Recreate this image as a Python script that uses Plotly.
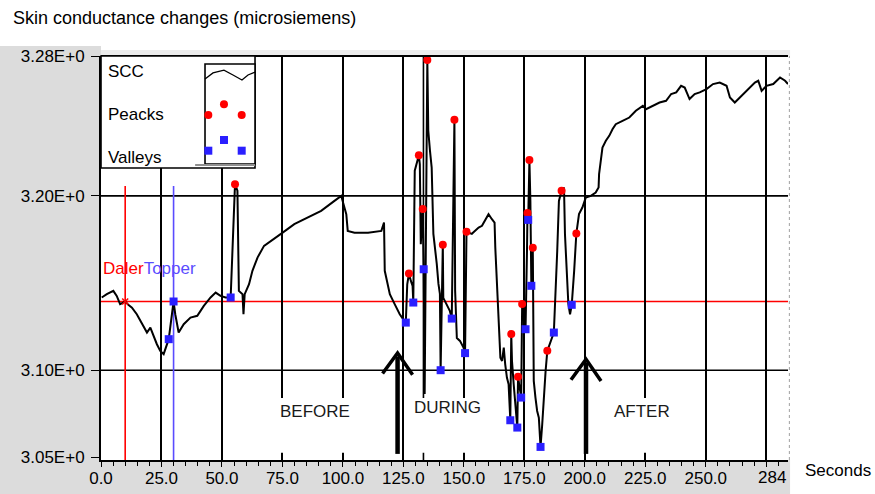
import plotly.graph_objects as go

# ---------------- data ----------------
time_s = [0.3, 2.4, 5.1, 6.5, 7.9, 10.0, 11.3, 12.8, 14.8, 16.9, 19.0, 20.4, 21.7, 23.1, 24.5, 25.9,
          28.0, 30.0, 30.7, 32.1, 34.2, 37.0, 39.8, 42.5, 45.3, 47.4, 49.4, 51.5, 53.6, 54.3, 55.4,
          56.4, 57.0, 58.5, 58.9, 59.4, 61.2, 62.6, 64.7, 67.4, 71.6, 75.1, 79.9, 85.5, 91.0, 96.5,
          99.3, 101.4, 102.0, 104.8, 110.4, 115.9, 117.0, 117.3, 119.4, 121.4, 123.5, 124.9, 126.0,
          126.6, 127.3, 128.1, 128.8, 129.1, 129.7, 131.4, 131.8, 132.2, 133.0, 133.4, 133.8, 134.9,
          135.3, 136.0, 136.7, 137.4, 138.1, 138.8, 139.5, 140.1, 140.4, 141.3, 141.5, 142.9, 144.2,
          145.0, 145.7, 146.1, 146.4, 147.1, 148.4, 149.9, 150.5, 150.9, 151.1, 153.3, 156.1, 157.5,
          160.2, 161.6, 162.7, 163.0, 163.7, 164.4, 165.1, 165.8, 166.5, 167.1, 167.8, 168.5, 169.2,
          169.6, 169.9, 170.6, 171.3, 172.1, 172.4, 172.8, 173.7, 174.1, 174.8, 175.5, 176.1, 176.3,
          176.6, 177.1, 177.5, 177.9, 178.5, 178.7, 178.9, 179.6, 180.3, 181.0, 181.4, 181.7, 182.4,
          183.1, 183.8, 184.5, 185.8, 187.2, 188.6, 189.3, 190.4, 191.4, 191.8, 192.4, 193.2, 193.9,
          194.6, 195.6, 196.5, 197.6, 199.0, 200.4, 202.5, 204.5, 205.7, 205.9, 206.6, 207.3, 208.7,
          210.1, 211.5, 212.8, 215.6, 218.4, 221.1, 224.0, 225.3, 228.1, 230.9, 233.6, 235.7, 237.8,
          239.8, 241.3, 243.3, 245.4, 247.5, 250.3, 253.0, 255.8, 258.6, 260.0, 262.0, 264.1, 266.9,
          270.3, 271.7, 273.1, 275.1, 277.9, 280.7, 282.8, 284.0]
scc_us = [3.1417, 3.1436, 3.1455, 3.1426, 3.1379, 3.1394, 3.1375, 3.1359, 3.1321, 3.1264, 3.1216,
          3.1244, 3.1197, 3.1149, 3.1111, 3.1092, 3.1178, 3.1394, 3.1321, 3.1216, 3.1264, 3.1302,
          3.1312, 3.1369, 3.1417, 3.1445, 3.1426, 3.1417, 3.1417, 3.1703, 3.2067, 3.2029, 3.1455,
          3.1436, 3.1321, 3.1436, 3.1493, 3.1570, 3.1646, 3.1713, 3.1752, 3.1789, 3.1838, 3.1876,
          3.1914, 3.1971, 3.2000, 3.1895, 3.1799, 3.1789, 3.1789, 3.1799, 3.1847, 3.1570, 3.1436,
          3.1379, 3.1321, 3.1293, 3.1273, 3.1493, 3.1554, 3.1512, 3.1484, 3.1388, 3.2144, 3.2233,
          3.2181, 3.1723, 3.1924, 3.1579, 3.0864, 3.2779, 3.2373, 3.2258, 3.2162, 3.1782, 3.1703,
          3.1610, 3.1495, 3.1438, 3.1000, 3.1719, 3.1415, 3.1380, 3.1340, 3.1296, 3.1971, 3.2436,
          3.1455, 3.1185, 3.1168, 3.1128, 3.1098, 3.1455, 3.1794, 3.1782, 3.1818, 3.1828, 3.1895,
          3.1866, 3.1847, 3.1703, 3.1493, 3.1244, 3.1072, 3.1053, 3.1130, 3.1034, 3.0958, 3.0920,
          3.0713, 3.1207, 3.1053, 3.0920, 3.0805, 3.0671, 3.0962, 3.0920, 3.0843, 3.1379, 3.1302,
          3.1235, 3.1684, 3.1901, 3.1862, 3.2205, 3.1971, 3.1484, 3.1703, 3.1398, 3.0939, 3.0843,
          3.0766, 3.0728, 3.0635, 3.0560, 3.0690, 3.0881, 3.0996, 3.1111, 3.1168, 3.1216, 3.1684,
          3.1971, 3.2029, 3.2048, 3.1780, 3.1627, 3.1380, 3.1321, 3.1375, 3.1570, 3.1784, 3.1895,
          3.1933, 3.1990, 3.2000, 3.2019, 3.2048, 3.2125, 3.2220, 3.2277, 3.2316, 3.2344, 3.2383,
          3.2411, 3.2430, 3.2449, 3.2488, 3.2516, 3.2497, 3.2516, 3.2535, 3.2545, 3.2584, 3.2593,
          3.2631, 3.2621, 3.2555, 3.2584, 3.2593, 3.2612, 3.2641, 3.2650, 3.2631, 3.2564, 3.2535,
          3.2564, 3.2602, 3.2650, 3.2660, 3.2602, 3.2631, 3.2641, 3.2679, 3.2660, 3.2641]

peak_t = [55.4, 127.3, 131.4, 133.0, 134.9, 141.3, 146.1, 151.1, 169.6, 172.4, 174.1, 176.3,
          177.1, 178.5, 184.5, 190.4, 196.5]
peak_v = [3.2067, 3.1554, 3.2233, 3.1924, 3.2779, 3.1719, 3.2436, 3.1794, 3.1207, 3.0962, 3.1379,
          3.1901, 3.2205, 3.1703, 3.1111, 3.2029, 3.1784]

valley_t = [28.0, 30.0, 53.6, 126.0, 129.1, 133.4, 140.4, 145.0, 150.5, 169.2, 172.1, 173.7,
            175.5, 176.6, 177.9, 181.7, 187.2, 194.6]
valley_v = [3.1178, 3.1394, 3.1417, 3.1273, 3.1388, 3.1579, 3.1000, 3.1296, 3.1098, 3.0713,
            3.0671, 3.0843, 3.1235, 3.1862, 3.1484, 3.0560, 3.1216, 3.1375]

x_tick_vals = [0, 25, 50, 75, 100, 125, 150, 175, 200, 225, 250, 275]
x_tick_text = ["0.0", "25.0", "50.0", "75.0", "100.0", "125.0", "150.0", "175.0",
               "200.0", "225.0", "250.0", ""]
x_end = 284
x_end_label = "284"
y_tick_vals = [3.05, 3.10, 3.20, 3.28]
y_tick_text = ["3.05E+0", "3.10E+0", "3.20E+0", "3.28E+0"]
h_grid_vals = [3.10, 3.20]
event_line_t = 133.3

daler_t = 10.0
topper_t = 30.0
level_v = 3.1394
cursor_top_v = 3.2057

arrow_t = [122.6, 200.5]
arrow_tip_v = [3.1099, 3.1063]
arrow_base_v = 3.0520

phase_labels = ["BEFORE", "DURING", "AFTER"]
phase_t = [88.5, 143.3, 223.5]
phase_v = [3.0762, 3.0785, 3.0762]
phase_box_t = [(70, 108), (126.6, 162), (207, 240)]
phase_box_v = (3.0526, 3.0841)

FONT = "Liberation Sans, Arial, sans-serif"
RED = "#ff0000"
BLUE = "#2a1fff"
TOPPER = "#5a4cff"

fig = go.Figure()

fig.add_trace(go.Scatter(x=time_s, y=scc_us, mode="lines",
                         line=dict(color="black", width=2), name="SCC",
                         showlegend=False))
fig.add_trace(go.Scatter(x=peak_t, y=peak_v, mode="markers",
                         marker=dict(color=RED, size=8, symbol="circle", line=dict(width=0)),
                         name="Peacks", showlegend=False))
fig.add_trace(go.Scatter(x=valley_t, y=valley_v, mode="markers",
                         marker=dict(color=BLUE, size=8, symbol="square", line=dict(width=0)),
                         name="Valleys", showlegend=False))
fig.add_trace(go.Scatter(x=[daler_t], y=[level_v], mode="markers",
                         marker=dict(color=RED, size=6, symbol="x-thin",
                                     line=dict(color=RED, width=1.5)),
                         showlegend=False))

shapes = []
GREY = "#dcdcdc"
shapes.append(dict(type="rect", xref="paper", yref="paper", x0=-0.147, x1=0, y0=-0.0842,
                   y1=1.0248, fillcolor=GREY, line=dict(width=0), layer="below"))
shapes.append(dict(type="rect", xref="paper", yref="paper", x0=0, x1=1.003, y0=-0.0842,
                   y1=0, fillcolor=GREY, line=dict(width=0), layer="below"))
shapes.append(dict(type="rect", xref="paper", yref="paper", x0=0, x1=1.003, y0=1,
                   y1=1.0149, fillcolor="#ececec", line=dict(width=0), layer="below"))
for v in h_grid_vals:
    shapes.append(dict(type="line", xref="paper", yref="y", x0=0, x1=1, y0=v, y1=v,
                       line=dict(color="black", width=1.6), layer="below"))
shapes.append(dict(type="line", xref="x", yref="paper", x0=event_line_t, x1=event_line_t,
                   y0=0, y1=1, line=dict(color="black", width=1.6), layer="below"))
for (a, b) in phase_box_t:
    shapes.append(dict(type="rect", xref="x", yref="y", x0=a, x1=b, y0=phase_box_v[0],
                       y1=phase_box_v[1], fillcolor="white", line=dict(width=0),
                       layer="between"))
shapes.append(dict(type="line", xref="paper", yref="y", x0=0, x1=1, y0=level_v, y1=level_v,
                   line=dict(color=RED, width=1.6), layer="between"))
shapes.append(dict(type="line", xref="x", yref="y", x0=daler_t, x1=daler_t, y0=3.0485,
                   y1=cursor_top_v, line=dict(color=RED, width=1.6), layer="between"))
shapes.append(dict(type="line", xref="x", yref="y", x0=topper_t, x1=topper_t, y0=3.0485,
                   y1=cursor_top_v, line=dict(color=TOPPER, width=1.6), layer="between"))
shapes.append(dict(type="line", xref="paper", yref="paper", x0=0, x1=1, y0=1, y1=1,
                   line=dict(color="black", width=2), layer="above"))
shapes.append(dict(type="line", xref="paper", yref="paper", x0=1.002, x1=1.002, y0=0, y1=1,
                   line=dict(color="#a0a0a0", width=1, dash="dot"), layer="above"))
for t, tip in zip(arrow_t, arrow_tip_v):
    shapes.append(dict(type="line", xref="x", yref="y", x0=t, x1=t, y0=arrow_base_v,
                       y1=tip - 0.002, line=dict(color="black", width=4.5), layer="above"))
    shapes.append(dict(type="path", xref="x", yref="y",
                       path=f"M {t-6.2},{tip-0.0118} L {t},{tip} L {t+6.2},{tip-0.0125}",
                       line=dict(color="black", width=3.5), layer="above"))

LX0, LX1, LY0, LY1 = 0, 0.2242, 0.7228, 1
shapes.append(dict(type="rect", xref="paper", yref="paper", x0=LX0, x1=LX1, y0=LY0, y1=LY1,
                   fillcolor="white", line=dict(color="black", width=1.6), layer="above"))
shapes.append(dict(type="rect", xref="paper", yref="paper", x0=0.1514, x1=0.2242, y0=0.7327,
                   y1=0.9802, fillcolor="white", line=dict(color="black", width=1.6),
                   layer="above"))
shapes.append(dict(type="line", xref="paper", yref="paper", x0=0.137, x1=0.2242, y0=0.7302,
                   y1=0.7302, line=dict(color="#909090", width=2), layer="above"))
shapes.append(dict(type="path", xref="paper", yref="paper",
                   path="M 0.1514,0.943 L 0.1630,0.958 L 0.1790,0.965 L 0.1921,0.953 "
                        "L 0.2052,0.9406 L 0.2140,0.953 L 0.2242,0.960",
                   line=dict(color="black", width=1.3), layer="above"))
for (px, py) in [(0.1562, 0.8540), (0.1790, 0.8804), (0.2048, 0.8540)]:
    shapes.append(dict(type="circle", xref="paper", yref="paper", xsizemode="pixel",
                       ysizemode="pixel", xanchor=px, yanchor=py, x0=-4, x1=4, y0=-4, y1=4,
                       fillcolor=RED, line=dict(width=0), layer="above"))
for (px, py) in [(0.1562, 0.7656), (0.1790, 0.7921), (0.2048, 0.7656)]:
    shapes.append(dict(type="rect", xref="paper", yref="paper", xsizemode="pixel",
                       ysizemode="pixel", xanchor=px, yanchor=py, x0=-4, x1=4, y0=-4, y1=4,
                       fillcolor=BLUE, line=dict(width=0), layer="above"))

annotations = []
for txt, yy in [("SCC", 0.9604), ("Peacks", 0.8540), ("Valleys", 0.7500)]:
    annotations.append(dict(text=txt, xref="paper", yref="paper", x=0.0073, y=yy,
                            xanchor="left", yanchor="middle", showarrow=False,
                            font=dict(family=FONT, size=17, color="black")))
for txt, t, v in zip(phase_labels, phase_t, phase_v):
    annotations.append(dict(text=txt, xref="x", yref="y", x=t, y=v, showarrow=False,
                            xanchor="center", yanchor="middle",
                            font=dict(family=FONT, size=17, color="#1a1a1a")))
annotations.append(dict(text="<span style='color:#ff0000'>Daler</span>"
                             "<span style='color:#5a4cff'>Topper</span>",
                        xref="paper", yref="paper", x=0.0, y=(460 - 268) / 404,
                        xanchor="left", yanchor="middle", showarrow=False,
                        font=dict(family=FONT, size=17)))
annotations.append(dict(text=x_end_label, xref="x", yref="paper", x=x_end, y=-0.044,
                        xanchor="right", yanchor="middle", showarrow=False,
                        font=dict(family=FONT, size=17, color="black")))
annotations.append(dict(text="Seconds", xref="paper", yref="paper", x=1.0218, y=-0.0248,
                        xanchor="left", yanchor="middle", showarrow=False,
                        font=dict(family=FONT, size=17, color="black")))

fig.update_layout(
    width=875, height=494,
    margin=dict(l=101, r=87, t=56, b=34, pad=0),
    paper_bgcolor="white", plot_bgcolor="white",
    showlegend=False,
    title=dict(text="Skin conductance changes (microsiemens)", x=13 / 875, xanchor="left",
               y=1 - 18 / 494, yanchor="middle", xref="container", yref="container",
               font=dict(family=FONT, size=18, color="black")),
    shapes=shapes, annotations=annotations,
    xaxis=dict(range=[0, x_end], tickmode="array", tickvals=x_tick_vals, ticktext=x_tick_text,
               showgrid=True, gridcolor="black", gridwidth=1.6, zeroline=False,
               showline=True, linecolor="black", linewidth=2, ticks="outside", ticklen=5,
               tickcolor="black", tickwidth=1.3, ticklabelstandoff=-3,
               minor=dict(tickmode="linear", tick0=0, dtick=5, ticks="outside", ticklen=4,
                          tickcolor="black", tickwidth=1, showgrid=False),
               tickfont=dict(family=FONT, size=17, color="black"), automargin=False),
    yaxis=dict(range=[3.0485, 3.2802], tickmode="array", tickvals=y_tick_vals,
               ticktext=y_tick_text, showgrid=False, zeroline=False, showline=True,
               linecolor="black", linewidth=2, ticks="outside", ticklen=8, tickcolor="black",
               tickwidth=1.3, ticklabelstandoff=3,
               tickfont=dict(family=FONT, size=17, color="black"), automargin=False),
)

fig.write_html("out.html", config={"displayModeBar": False},
               post_script="document.body.style.margin='0';"
                           "document.body.style.overflow='hidden';")
